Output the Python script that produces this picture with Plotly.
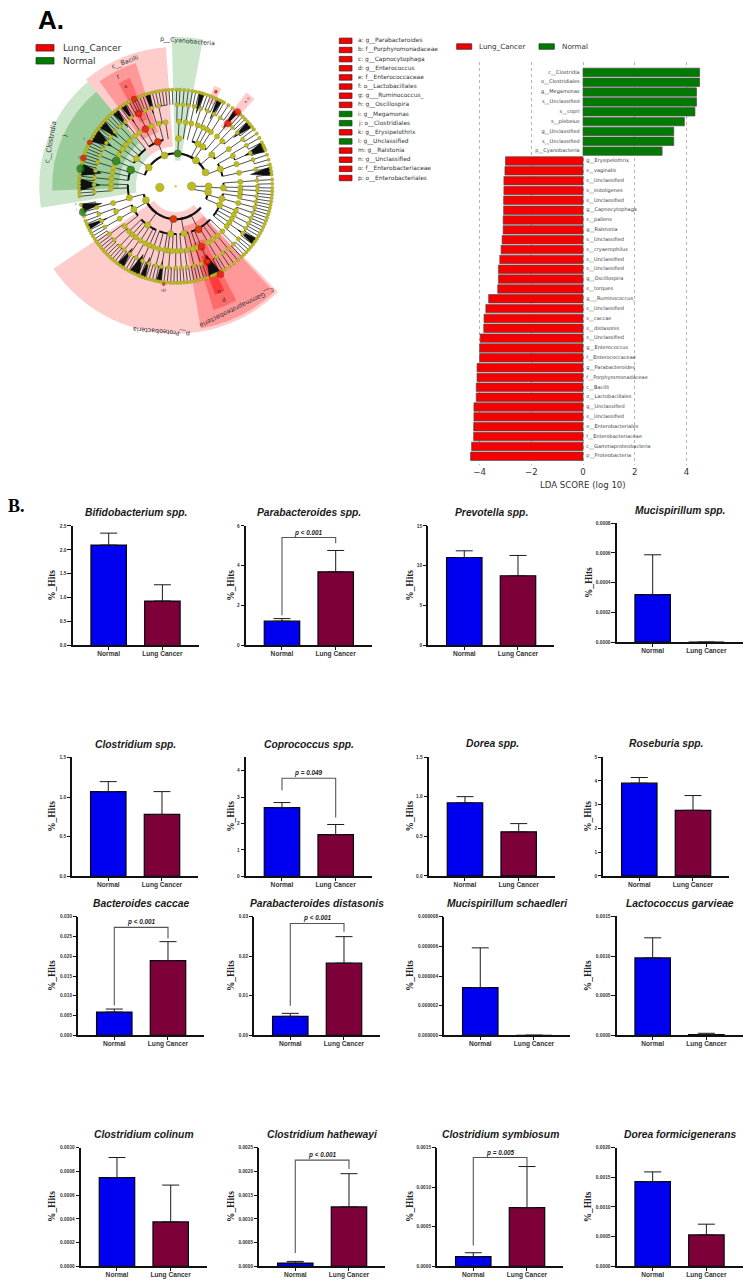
import plotly.graph_objects as go

W, H = 750, 1288
SANS = 'Liberation Sans'
SERIF = 'Liberation Serif'
MPL = 'DejaVu Sans'
RED = '#f40000'
GREEN = '#007a00'
BLUE = '#0000f0'
WINE = '#7e0038'

# ---- LDA bars, top to bottom
lda_labels = ['c__Clostridia', 'o__Clostridiales', 'g__Megamonas', 's__Unclassified', 's__copri', 's__plebeius',
              'g__Unclassified', 's__Unclassified', 'p__Cyanobacteria',
              'g__Erysipelothrix', 's__vaginalis', 's__Unclassified', 's__indoligenes', 's__Unclassified',
              'g__Capnocytophaga', 's__pallens', 'g__Ralstonia', 's__Unclassified', 's__cryaerophilus',
              's__Unclassified', 's__Unclassified', 'g__Oscillospira', 's__torques', 'g___Ruminococcus_',
              's__Unclassified', 's__caccae', 's__distasonis', 's__Unclassified', 'g__Enterococcus',
              'f__Enterococcaceae', 'g__Parabacteroides', 'f__Porphyromonadaceae', 'c__Bacilli',
              'o__Lactobacillales', 'g__Unclassified', 's__Unclassified', 'o__Enterobacteriales',
              'f__Enterobacteriaceae', 'c__Gammaproteobacteria', 'p__Proteobacteria']
lda_scores = [4.51, 4.51, 4.39, 4.39, 4.33, 3.92, 3.51, 3.51, 3.06,
              -3.00, -3.02, -3.06, -3.06, -3.07, -3.07, -3.09, -3.09, -3.13, -3.17,
              -3.22, -3.27, -3.27, -3.30, -3.65, -3.76, -3.83, -3.84, -3.98, -4.00,
              -4.00, -4.10, -4.10, -4.13, -4.13, -4.22, -4.22, -4.23, -4.23, -4.31, -4.35]

key_letters = ['a: g__Parabacteroides', 'b: f__Porphyromonadaceae', 'c: g__Capnocytophaga', 'd: g__Enterococcus',
               'e: f__Enterococcaceae', 'f: o__Lactobacillales', 'g: g___Ruminococcus_', 'h: g__Oscillospira',
               'i: g__Megamonas', 'j: o__Clostridiales', 'k: g__Erysipelothrix', 'l: g__Unclassified',
               'm: g__Ralstonia', 'n: g__Unclassified', 'o: f__Enterobacteriaceae', 'p: o__Enterobacteriales']
key_groups = ['r', 'r', 'r', 'r', 'r', 'r', 'r', 'r', 'g', 'g', 'r', 'g', 'r', 'r', 'r', 'r']

# ---- bar panels, row by row
titles = ['Bifidobacterium spp.', 'Parabacteroides spp.', 'Prevotella spp.', 'Mucispirillum spp.',
          'Clostridium spp.', 'Coprococcus spp.', 'Dorea spp.', 'Roseburia spp.',
          'Bacteroides caccae', 'Parabacteroides distasonis', 'Mucispirillum schaedleri', 'Lactococcus garvieae',
          'Clostridium colinum', 'Clostridium hathewayi', 'Clostridium symbiosum', 'Dorea formicigenerans']
normal_mean = [2.1, 1.22, 11.04, 0.00032, 1.068, 2.6, 0.923, 3.9,
               0.00588, 0.00479, 3.22e-6, 0.000976, 0.000746, 0.00007, 0.000122, 0.001425]
normal_top = [2.35, 1.35, 11.88, 0.000588, 1.194, 2.79, 1.0, 4.14,
              0.00664, 0.00555, 5.9e-6, 0.00123, 0.000916, 0.000105, 0.000172, 0.00159]
cancer_mean = [0.93, 3.7, 8.75, 0, 0.78, 1.575, 0.556, 2.76,
               0.0189, 0.01824, 0, 0.00001, 0.000374, 0.00125, 0.000742, 0.00053]
cancer_top = [1.27, 4.77, 11.3, 0, 1.068, 1.96, 0.66, 3.38,
              0.0237, 0.02496, 0, 0.000025, 0.000684, 0.00195, 0.00126, 0.00071]
y_tops = [2.5, 6, 15, 0.0008, 1.5, 4.5, 1.5, 5, 0.03, 0.03, 8e-6, 0.0015, 0.001, 0.0025, 0.0015, 0.002]
y_ticks = [['0.0', '0.5', '1.0', '1.5', '2.0', '2.5'], ['0', '2', '4', '6'], ['0', '5', '10', '15'],
           ['0.0000', '0.0002', '0.0004', '0.0006', '0.0008'],
           ['0.0', '0.5', '1.0', '1.5'], ['0', '1', '2', '3', '4'], ['0.0', '0.5', '1.0', '1.5'],
           ['0', '1', '2', '3', '4', '5'],
           ['0.000', '0.005', '0.010', '0.015', '0.020', '0.025', '0.030'], ['0.00', '0.01', '0.02', '0.03'],
           ['0.000000', '0.000002', '0.000004', '0.000006', '0.000008'], ['0.0000', '0.0005', '0.0010', '0.0015'],
           ['0.0000', '0.0002', '0.0004', '0.0006', '0.0008', '0.0010'],
           ['0.0000', '0.0005', '0.0010', '0.0015', '0.0020', '0.0025'], ['0.0000', '0.0005', '0.0010', '0.0015'],
           ['0.0000', '0.0005', '0.0010', '0.0015', '0.0020']]
# panel index: p text, bracket top, left foot, right foot
brackets = {1: ['p < 0.001', 5.42, 1.52, 5.13],
            5: ['p = 0.049', 3.71, 3.26, 2.22],
            8: ['p < 0.001', 0.0273, 0.00756, 0.0245],
            9: ['p < 0.001', 0.0283, 0.00748, 0.0262],
            13: ['p < 0.001', 0.002235, 0.00028, 0.00205],
            14: ['p = 0.005', 0.001374, 0.000264, 0.00126]}
bar_names = ['Normal', 'Lung Cancer']

panel_left = [72.7, 246, 428.3, 616.7, 72.3, 246, 429, 603.3, 78.3, 254.3, 444.3, 616.7, 81, 259.3, 437.3, 616.7]
panel_top = [526, 526, 526, 523.3, 758.3, 758.3, 758, 758, 918.3, 918.3, 918.3, 918, 1150, 1150, 1150, 1150]
panel_base = [646, 646, 646, 642.7, 877.7, 877.7, 877.3, 877.3, 1037.3, 1037.3, 1037.3, 1037.3, 1269.3, 1269.3, 1269.3, 1269.3]
ytitle_x = [52, 231, 410, 588.3]

# ---- cladogram: (radius of ring in px, node angles in degrees clockwise from the top)
ring_r = [16, 33, 48, 65, 82, 97]
ring_angles = [
    [90, 266],
    [3.5, 38, 65, 90, 100, 184, 245, 305, 340],
    [3.5, 28, 34.5, 49, 69, 92, 105, 113, 152, 170, 186, 216, 241, 256, 290, 305, 338],
    [3, 9, 14, 20, 25, 29, 33, 39.7, 46, 55, 62, 70, 78, 86, 91, 95, 99, 105, 112, 116, 120, 124, 128, 134, 140, 145,
     150, 157, 161, 165, 170, 175, 179, 183, 187, 190, 195, 200, 204, 208, 213, 218, 222, 226, 232, 240, 247, 255,
     268, 272, 277, 282, 287, 293, 299, 305, 310, 315, 321, 326, 332, 338, 345, 351],
    [1, 5, 9, 13, 18, 23, 28, 33, 39.7, 44, 49, 55, 60, 66, 71, 78, 86, 90, 93, 97, 101, 105, 109, 113, 117, 121,
     125, 130, 135, 140, 145, 150, 157, 162, 167, 172, 176, 180, 185, 190, 194, 199, 204, 209, 214, 219, 223, 229,
     234, 240, 245, 250, 255, 266, 271, 276, 281, 287, 292, 297, 302, 307, 312, 317, 322, 327, 333, 338, 343, 348],
    [0.5, 2.5, 5, 7.5, 10, 12, 14, 15.5, 17, 19, 21, 23, 25, 27, 28.5, 30, 33, 36, 39.7, 42, 44, 46, 48, 50, 52,
     54, 57, 60, 63, 65, 66.5, 68, 71, 74, 77, 79, 81, 83, 86, 88.5, 91, 93, 95, 97, 99, 101, 103, 105, 107, 109,
     111, 113, 115, 117, 119, 121, 123, 125, 127, 129, 131, 133, 135, 137, 140, 143, 146, 149, 151, 153, 155, 156.5,
     158, 161, 163, 165, 167, 169, 171, 173, 175, 177, 179, 181, 183, 185, 187, 189, 190.5, 192, 194, 196, 198,
     200, 201.5, 203, 205, 207, 209, 211, 213, 215, 217, 219, 221, 223, 225, 227, 229, 231, 233, 235, 237, 239,
     241, 243, 245, 247, 249, 252, 254.4, 256, 259, 264, 266, 268, 270, 272, 274, 276, 278, 280.5, 283, 285, 287,
     289, 291, 293, 295, 297, 299, 301, 303, 305, 307, 309, 311, 313, 315, 317, 319, 321, 323, 325, 327, 329, 331,
     333, 334.5, 336, 338, 340, 342, 344, 346, 348, 350, 352, 354, 356, 358]]
ring_sizes = [8.5, 7, 6.3, 5.2, 4.2, 3.4]
ring_width = [0, 2.2, 2.0, 1.3, 0.7, 0.6]

# the two heavy arcs of the second ring
main_arc_from = [130, 306]
main_arc_to = [247, 425]

# black fans near the rim: centre angle, half width
fan_theta = [15.7, 27, 39, 50, 66, 81, 125, 156, 190, 200, 205.5, 215, 245, 257, 271, 280, 302, 310, 321, 327, 343]
fan_half = [1.5, 1.5, 1.5, 2, 3, 2.5, 2, 3.5, 1.5, 1.5, 3, 2, 1.5, 2.5, 3.5, 3.5, 4, 2.5, 2, 1.5, 1.5]

# shaded clades: from angle, to angle, inner radius, outer radius, colour
sector_from = [261, 268, 320, 324, 331, 358.5, 136, 137, 152, 155, 37, 21]
sector_to = [320, 320, 356, 342, 337, 370.5, 236, 170, 163, 160, 42, 25]
sector_in = [40, 57, 40, 57, 73, 26, 26, 41, 60, 75, 75, 90]
sector_out = [137, 124, 140, 130, 118, 150, 148, 145, 130, 116, 118, 108]
sector_col = ['rgba(0,128,0,0.2)', 'rgba(0,128,0,0.25)', 'rgba(255,0,0,0.2)', 'rgba(255,0,0,0.25)',
              'rgba(255,0,0,0.3)', 'rgba(0,128,0,0.2)', 'rgba(255,0,0,0.2)', 'rgba(255,0,0,0.25)',
              'rgba(255,0,0,0.3)', 'rgba(255,0,0,0.45)', 'rgba(255,0,0,0.2)', 'rgba(255,0,0,0.2)']

red_theta = [184, 338, 152, 332, 157, 39.7, 333, 157, 39.7, 334.5, 153, 287, 297, 23, 187]
red_r = [33, 48, 49, 65, 66, 82, 82, 82, 97, 97, 99, 97, 97, 103, 99]
red_size = [7, 7, 7, 7, 7, 7, 7, 7, 7, 6, 7, 6, 5, 3, 3]
green_theta = [3.5, 290, 293, 280.5, 254.4]
green_r = [33, 48, 65, 97, 97]
green_size = [7, 8, 8, 8, 7]

fig = go.Figure()


def fx(x):
    return x / W


def fy(y):
    return 1 - y / H


def note(text, x, y, size, family=SANS, color='#222222', angle=0, anchor='center'):
    fig.add_annotation(text=text, x=fx(x), y=fy(y), xref='paper', yref='paper', showarrow=False,
                       xanchor=anchor, yanchor='middle', textangle=angle,
                       font=dict(size=size, family=family, color=color))


def key_box(x0, y, x1, color, h=5.5):
    fig.add_shape(type='rect', xref='paper', yref='paper', x0=fx(x0), x1=fx(x1), y0=fy(y - h / 2), y1=fy(y + h / 2),
                  fillcolor=color, line=dict(color='#5a2020' if color == RED else '#1c4a1c', width=0.8))


def arc_points(lo, hi, r, th, rr):
    a = lo
    while a < hi:
        th.append(a)
        rr.append(r)
        a += 2
    th += [hi, None]
    rr += [r, None]


# ---- cladogram
cx, cy, cr = 175.7, 185, 160
for i in range(len(sector_from)):
    fig.add_trace(go.Barpolar(r=[sector_out[i] - sector_in[i]], base=[sector_in[i]],
                              theta=[(sector_from[i] + sector_to[i]) / 2], width=[sector_to[i] - sector_from[i]],
                              marker=dict(color=sector_col[i], line=dict(width=0)), subplot='polar'))


def nearest(angle, pool):
    return min(pool, key=lambda a: min(abs(a - angle), 360 - abs(a - angle)))


for lev in range(1, len(ring_r)):
    th, rr = [], []
    kids = {}
    for a in ring_angles[lev]:
        p = nearest(a, ring_angles[lev - 1])
        kids.setdefault(p, []).append(a)
        if lev == 1 and abs(a - p) > 15:
            continue
        th += [a, a, None]
        rr += [ring_r[lev - 1], ring_r[lev], None]
    fig.add_trace(go.Scatterpolar(theta=th, r=rr, mode='lines', subplot='polar',
                                  line=dict(color='#20242a', width=0.8)))
    if lev == 1:
        continue
    ath, arr = [], []
    for p, k in kids.items():
        lo, hi = min(k + [p]), max(k + [p])
        if hi - lo > 180:
            continue
        arc_points(lo, hi, ring_r[lev - 1], ath, arr)
    fig.add_trace(go.Scatterpolar(theta=ath, r=arr, mode='lines', subplot='polar',
                                  line=dict(color='#101010', width=ring_width[lev - 1])))

ath, arr = [], []
for lo, hi in zip(main_arc_from, main_arc_to):
    arc_points(lo, hi, ring_r[1], ath, arr)
fig.add_trace(go.Scatterpolar(theta=ath, r=arr, mode='lines', subplot='polar', line=dict(color='#101010', width=2.2)))

fan_t, fan_r = [], []
for a, h in zip(fan_theta, fan_half):
    fan_t += [a, a - h, a + h, a, None]
    fan_r += [76, 96, 96, 76, None]
fig.add_trace(go.Scatterpolar(theta=fan_t, r=fan_r, mode='lines', fill='toself', fillcolor='#101010', subplot='polar',
                              line=dict(color='#101010', width=0.5)))

for lev in range(len(ring_r)):
    fig.add_trace(go.Scatterpolar(theta=ring_angles[lev], r=[ring_r[lev]] * len(ring_angles[lev]), mode='markers',
                                  subplot='polar',
                                  marker=dict(color='#bdbb25', size=ring_sizes[lev], line=dict(color='#8d8c16', width=0.4))))
fig.add_trace(go.Scatterpolar(theta=[0], r=[0], mode='markers', subplot='polar',
                              marker=dict(color='#d8d830', size=2.5)))
fig.add_trace(go.Scatterpolar(theta=red_theta, r=red_r, mode='markers', subplot='polar',
                              marker=dict(color='#ee0000', size=red_size, line=dict(color='#7a1010', width=0.5))))
fig.add_trace(go.Scatterpolar(theta=green_theta, r=green_r, mode='markers', subplot='polar',
                              marker=dict(color='#0a7a1a', size=green_size, line=dict(color='#104a10', width=0.5))))

note('<b>A.</b>', 36, 18, 26, SANS, '#000000', anchor='left')
key_box(36, 46, 54, RED, 6.5)
key_box(36, 59, 54, GREEN, 6.5)
note('Lung_Cancer', 61, 46, 9, MPL, '#333333', anchor='left')
note('Normal', 61, 59.5, 9, MPL, '#333333', anchor='left')
note('p__Cyanobacteria', 187, 39.5, 6.2, MPL, '#333333', 5)
note('c__Bacilli', 125, 60, 6.2, MPL, '#333333', -20)
note('f', 118, 75, 6, MPL, '#333333', -25)
note('e', 125.5, 84, 5, MPL, '#333333', -25)
note('c__Clostridia', 51, 141, 6.8, MPL, '#333333', -80)
note('j', 65, 135, 6, MPL, '#333333', -80)
note('p__Proteobacteria', 162, 331, 6.4, MPL, '#333333', 185)
note('c__Gammaproteobacteria', 237, 307, 6.4, MPL, '#333333', 154)
note('p', 224, 300, 6, MPL, '#333333', 155)
note('o', 219.5, 291, 6, MPL, '#333333', 155)
note('m', 164, 290, 5, MPL, '#333333', 175)
note('a: b', 247, 98, 3.6, MPL, '#7a4040', -50)
note('c', 217, 89, 3.6, MPL, '#7a4040', 22)
note('h', 84, 138, 3.2, MPL, '#555555', 20)
note('g', 79, 156, 3.2, MPL, '#555555', 10)
note('l', 76, 209, 3.2, MPL, '#555555', -10)
note('k', 76, 203, 3.2, MPL, '#555555', -10)

# ---- key letters
for i, t in enumerate(key_letters):
    y = 39 + i * (176.7 - 39) / 15
    key_box(339.3, y, 352, RED if key_groups[i] == 'r' else GREEN)
    note(t, 356, y, 5.9, MPL, '#333333', anchor='left')

key_box(456.7, 44.7, 471.7, RED)
key_box(539, 44.7, 554.3, GREEN)
note('Lung_Cancer', 477.3, 44.7, 7.2, MPL, '#333333', anchor='left')
note('Normal', 559.7, 44.7, 7.2, MPL, '#333333', anchor='left')

# ---- LDA bars
n = len(lda_scores)
rows = [n - 1 - i for i in range(n)]
fig.add_trace(go.Bar(x=lda_scores, y=rows, orientation='h', width=0.86, xaxis='x', yaxis='y',
                     marker=dict(color=[GREEN if v > 0 else RED for v in lda_scores],
                                 line=dict(color='#4d4d4d', width=0.7))))
fig.add_trace(go.Scatter(x=[-0.13 if v > 0 else 0.13 for v in lda_scores], y=rows, mode='text', text=lda_labels,
                         textposition=['middle left' if v > 0 else 'middle right' for v in lda_scores],
                         textfont=dict(size=5, family=MPL, color='#3a3a3a'), xaxis='x', yaxis='y'))
note('LDA SCORE (log 10)', 582.7, 484.5, 8.6, MPL, '#333333')

layout = dict(
    width=W, height=H, margin=dict(l=0, r=0, t=0, b=0), autosize=False, showlegend=False,
    paper_bgcolor='white', plot_bgcolor='rgba(0,0,0,0)', barmode='overlay',
    polar=dict(domain=dict(x=[fx(cx - cr), fx(cx + cr)], y=[fy(cy + cr), fy(cy - cr)]), bgcolor='rgba(0,0,0,0)',
               radialaxis=dict(range=[0, cr], visible=False),
               angularaxis=dict(rotation=90, direction='clockwise', visible=False)),
    xaxis=dict(domain=[fx(466.7), fx(704.5)], range=[-4.5, 4.7], tickvals=[-4, -2, 0, 2, 4],
               ticktext=['\u22124', '\u22122', '0', '2', '4'], showgrid=True, griddash='dot', gridcolor='#b5b5b5',
               gridwidth=0.8, zeroline=False, showline=False, ticks='', tickfont=dict(size=8.6, family=MPL, color='#333333')),
    yaxis=dict(domain=[fy(465), fy(60)], range=[-0.91, 40.08], visible=False, anchor='x'),
)

# ---- bar panels
for i in range(len(titles)):
    k = i + 2
    xa, ya = 'x%d' % k, 'y%d' % k
    lc_err = cancer_top[i] - cancer_mean[i] if cancer_top[i] > 0 else None
    fig.add_trace(go.Bar(x=[0, 1], y=[normal_mean[i], cancer_mean[i]], width=0.66, xaxis=xa, yaxis=ya,
                         marker=dict(color=[BLUE, WINE], line=dict(color='#050510', width=1.2)),
                         error_y=dict(type='data', symmetric=False, array=[normal_top[i] - normal_mean[i], lc_err],
                                      arrayminus=[0, None if lc_err is None else 0], color='#1a1a1a', thickness=1, width=8.5)))
    if i in brackets:
        txt, top, foot_l, foot_r = brackets[i]
        fig.add_trace(go.Scatter(x=[0, 0, 1, 1], y=[foot_l, top, top, foot_r], mode='lines', xaxis=xa, yaxis=ya,
                                 line=dict(color='#555555', width=1.1)))
        fig.add_annotation(text='<b><i>%s</i></b>' % txt, x=0.5, y=top, xref=xa, yref=ya, showarrow=False,
                           yanchor='bottom', yshift=-1, font=dict(size=6.4, family=SANS, color='#222222'))
    tops = y_tops[i]
    vals = [float(t) for t in y_ticks[i]]
    l, t, b = panel_left[i], panel_top[i], panel_base[i]
    layout['xaxis%d' % k] = dict(domain=[fx(l), fx(l + 126)], range=[-0.67, 1.676], tickvals=[0, 1], ticktext=bar_names,
                                 anchor=ya, showgrid=False, zeroline=False, showline=True, linecolor='#111111', linewidth=1.5,
                                 ticks='outside', ticklen=3, tickwidth=1.3, tickcolor='#111111', ticklabelstandoff=-2,
                                 tickfont=dict(size=6.6, family=SANS, color='#333333', weight='bold'))
    layout['yaxis%d' % k] = dict(domain=[fy(b), fy(t)], range=[0, tops], tickvals=vals, ticktext=y_ticks[i], anchor=xa,
                                 showgrid=False, zeroline=False, showline=True, linecolor='#111111', linewidth=1.5,
                                 ticks='outside', ticklen=3.5, tickwidth=1.3, tickcolor='#111111',
                                 tickfont=dict(size=4.8, family=SANS, color='#333333', weight='bold'))
    note('<b><i>%s</i></b>' % titles[i], l + 63, t - 13.2, 10.3, SANS, '#1a1a1a')
    note('<b>%_Hits</b>', ytitle_x[i % 4], (t + b) / 2, 9.4, SERIF, '#222222', -90)

note('<b>B.</b>', 6, 506, 18, SERIF, '#000000', anchor='left')

fig.update_layout(**layout)
fig.write_html("out.html", post_script="document.body.style.margin='0';", config=dict(displayModeBar=False))
